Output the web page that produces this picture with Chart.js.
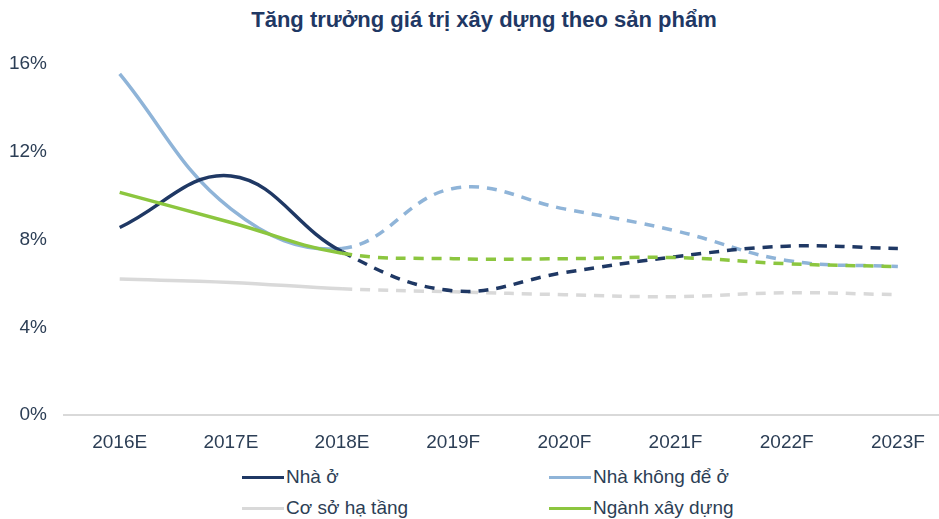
<!DOCTYPE html>
<html>
<head>
<meta charset="utf-8">
<script src="https://cdn.jsdelivr.net/npm/chart.js@4"></script>
<style>
  body { margin: 0; background: #fff; font-family: "Liberation Sans", Arial, sans-serif; }
  #wrap { position: relative; width: 939px; height: 519px; overflow: hidden; }
  #title { position: absolute; left: 0; top: 7px; width: 968px; text-align: center;
           font-size: 22px; font-weight: bold; color: #1f3864; }
  #chartBox { position: absolute; left: 0; top: 0; width: 939px; height: 462px; }
  .leg { position: absolute; font-size: 19px; color: #2c3e55; display: flex; align-items: center; height: 24px; }
  .leg span.swatch { display: inline-block; width: 42px; height: 3px; margin-right: 2px; }
</style>
</head>
<body>
<div id="wrap">
  <div id="title">Tăng trưởng giá trị xây dựng theo sản phẩm</div>
  <div id="chartBox"><canvas id="growthChart"></canvas></div>
  <div id="legend"></div>
</div>
<script>
// Categories (E = estimate, F = forecast)
const years = ['2016E', '2017E', '2018E', '2019F', '2020F', '2021F', '2022F', '2023F'];

// Growth rates in %
const nhaO = [8.55, 10.9, 7.45, 5.67, 6.5, 7.22, 7.7, 7.59];
const nhaKhongDeO = [15.55, 9.4, 7.6, 10.33, 9.4, 8.4, 7.05, 6.77];
const coSoHaTang = [6.2, 6.05, 5.76, 5.62, 5.49, 5.4, 5.58, 5.49];
const nganhXayDung = [10.15, 8.78, 7.38, 7.13, 7.13, 7.18, 6.9, 6.77];

const yTicks = [0, 4, 8, 12, 16];

// Series after this index are forecasts and drawn dashed
const lastActual = 2;

const series = [
    { label: 'Nhà ở', data: nhaO, color: '#1f3864', order: 2 },
    { label: 'Nhà không để ở', data: nhaKhongDeO, color: '#8fb4d8', order: 3 },
    { label: 'Cơ sở hạ tầng', data: coSoHaTang, color: '#d9d9d9', order: 4 },
    { label: 'Ngành xây dựng', data: nganhXayDung, color: '#8cc63f', order: 1 }
];

const ctx = document.getElementById('growthChart').getContext('2d');
new Chart(ctx, {
    type: 'line',
    data: {
        datasets: series.map(s => ({
            label: s.label,
            data: s.data.map((v, i) => ({ x: i, y: v })),
            borderColor: s.color,
            backgroundColor: s.color,
            borderWidth: 3.5,
            pointRadius: 0,
            tension: 0.4,
            order: s.order,
            segment: {
                borderDash: c => c.p0DataIndex >= lastActual ? [10, 8] : undefined
            }
        }))
    },
    options: {
        responsive: true,
        maintainAspectRatio: false,
        animation: false,
        layout: { padding: { top: 64, right: 0, left: 0, bottom: 0 } },
        scales: {
            x: {
                type: 'linear',
                min: -0.51,
                max: 7.37,
                afterBuildTicks: axis => { axis.ticks = years.map((_, i) => ({ value: i })); },
                ticks: {
                    callback: v => years[v],
                    color: '#2c3e55',
                    font: { family: 'Liberation Sans', size: 19 },
                    padding: 8,
                    maxRotation: 0
                },
                grid: { display: false },
                border: { display: false }
            },
            y: {
                min: 0,
                max: 16,
                afterBuildTicks: axis => { axis.ticks = yTicks.map(v => ({ value: v })); },
                afterFit: axis => { axis.width = 63; },
                ticks: {
                    callback: v => v + '%',
                    color: '#2c3e55',
                    font: { family: 'Liberation Sans', size: 19 },
                    padding: 16
                },
                grid: {
                    drawTicks: false,
                    lineWidth: 2,
                    color: c => c.tick && c.tick.value === 0 ? '#d9d9d9' : 'rgba(0,0,0,0)'
                },
                border: { display: false }
            }
        },
        plugins: {
            legend: { display: false },
            tooltip: { enabled: false }
        }
    }
});

// Legend in two columns, as in the original
const legendPos = [
    { left: 242, top: 465 },
    { left: 549, top: 465 },
    { left: 242, top: 496 },
    { left: 549, top: 496 }
];
const legendEl = document.getElementById('legend');
series.forEach((s, i) => {
    const item = document.createElement('div');
    item.className = 'leg';
    item.style.left = legendPos[i].left + 'px';
    item.style.top = legendPos[i].top + 'px';
    item.innerHTML = '<span class="swatch" style="background:' + s.color + '"></span>' + s.label;
    legendEl.appendChild(item);
});
</script>
</body>
</html>
